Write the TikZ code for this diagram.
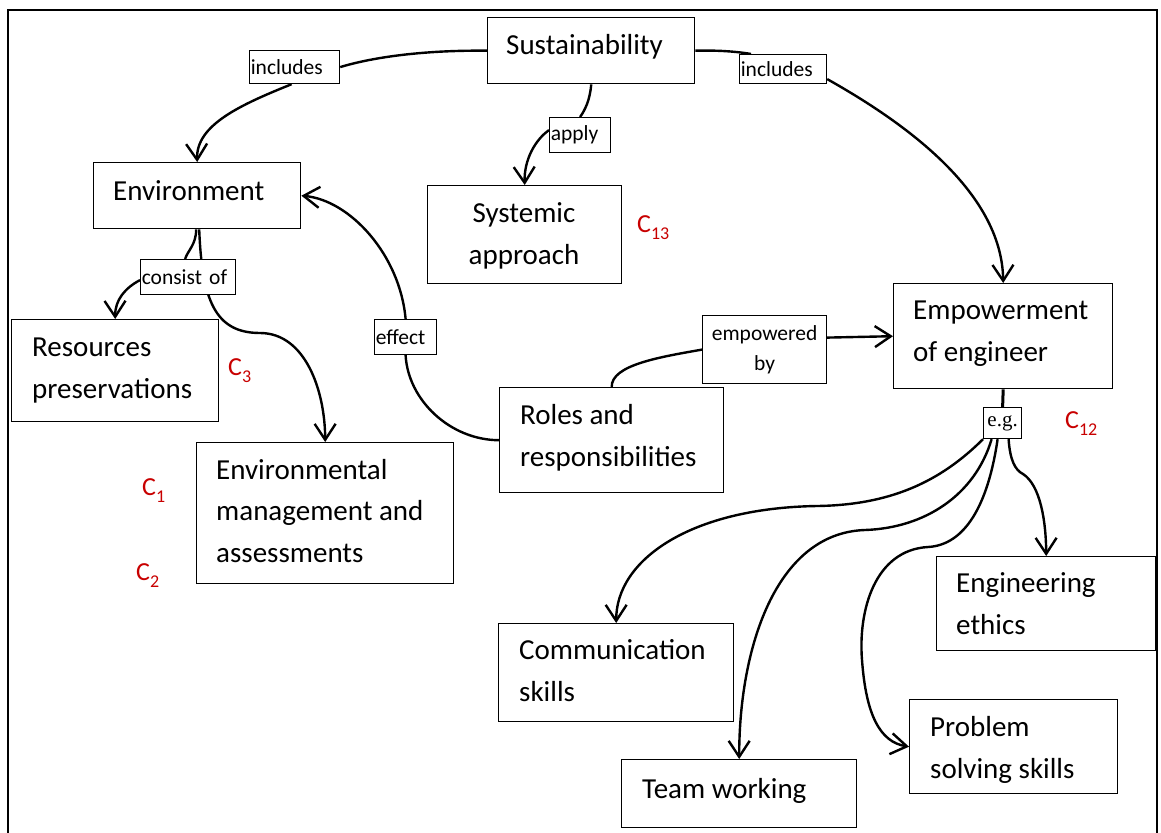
\documentclass[tikz,border=0pt]{standalone}
\usepackage{fontspec}
\setmainfont{Carlito}
\newfontfamily\egfont{Liberation Serif}
\usetikzlibrary{arrows.meta}
\definecolor{cred}{RGB}{200,0,0}
\pgfdeclarelayer{bg}
\pgfsetlayers{bg,main}
\newcommand\mysub[1]{\raisebox{-7pt}{\fontsize{18}{18}\selectfont #1}}
\begin{document}
\begin{tikzpicture}[x=1pt,y=-1pt,
  box/.style={draw, line width=1.4pt, rectangle, inner sep=0pt, anchor=north west},
  lbl/.style={draw, line width=1.2pt, fill=white, inner xsep=1.2pt, inner ysep=0pt, anchor=north west, align=left, font=\fontsize{21.5}{30}\selectfont},
  txt/.style={inner sep=0pt, anchor=base west, align=left, font=\fontsize{29}{41.5}\selectfont},
  con/.style={line width=2.4pt},
  arr/.style={con, -{Straight Barb[length=16pt,width=21pt]}},
  cl/.style={text=cred, inner sep=0pt, anchor=base west, font=\fontsize{26}{30}\selectfont}
]
\useasboundingbox (0,0) rectangle (1161,832);
\draw[line width=2pt] (8,834) -- (8,10) -- (1157,10) -- (1157,834);

% boxes
\node[box, minimum width=207, minimum height=66] (sus) at (487,17) {};
\node[box, minimum width=207, minimum height=66] (env) at (93,162) {};
\node[box, minimum width=194, minimum height=98] (sys) at (427,185) {};
\node[box, minimum width=207, minimum height=102] (res) at (11,319) {};
\node[box, minimum width=257, minimum height=141] (envm) at (196,442) {};
\node[box, minimum width=224, minimum height=105] (roles) at (499,387) {};
\node[box, minimum width=219, minimum height=105] (empow) at (893,283) {};
\node[box, minimum width=219, minimum height=94] (eth) at (936,556) {};
\node[box, minimum width=235, minimum height=98] (comm) at (498,623) {};
\node[box, minimum width=235, minimum height=68] (team) at (621,759) {};
\node[box, minimum width=208, minimum height=94] (prob) at (909,699) {};

% box texts (base anchor = baseline of the last line)
\node[txt] (susT) at (506,55) {Sustainability};
\node[txt] (envT) at (113,200) {Environment};
\node[txt, anchor=base, align=center] (sysT) at (524,264) {Systemic\\approach};
\node[txt] (resT) at (32,398) {Resources\\preservations};
\node[txt] (envmT) at (216,562) {Environmental\\management and\\assessments};
\node[txt] (rolesT) at (520,466) {Roles and\\responsibilities};
\node[txt] (empowT) at (913,361) {Empowerment\\of engineer};
\node[txt] (ethT) at (956,634) {Engineering\\ethics};
\node[txt] (commT) at (519,701) {Communication\\skills};
\node[txt] (teamT) at (642,798) {Team working};
\node[txt] (probT) at (930,778) {Problem\\solving skills};

% connector labels
\node[lbl, text width=87.6, minimum height=33] (incL) at (249,50) {includes};
\node[lbl, text width=84.6, minimum height=29] (incR) at (739,54) {includes};
\node[lbl, text width=58.6, minimum height=35] (apply) at (549,117) {apply};
\node[lbl, text width=92.6, minimum height=35] (consist) at (140,259) {consist of};
\node[lbl, text width=59.6, minimum height=35] (effect) at (374,319) {effect};
\node[lbl, text width=121.6, minimum height=68, align=center] (empBy) at (702,315) {empowered\\by};
\node[lbl, text width=35.6, minimum height=31, align=center, font=\egfont\fontsize{21}{24}\selectfont] (eg) at (983,407) {e.g.};

% C labels
\node[cl] (c13) at (637,232) {C\mysub{13}};
\node[cl] (c3) at (228,375) {C\mysub{3}};
\node[cl] (c1) at (142,495) {C\mysub{1}};
\node[cl] (c2) at (136,580) {C\mysub{2}};
\node[cl] (c12) at (1065,428) {C\mysub{12}};

\begin{pgfonlayer}{bg}
% Sustainability -> Environment
\draw[con] (sus.west) .. controls (420,50) and (370,58) .. (incL.east);
\draw[arr] ([xshift=-3pt]incL.south) .. controls (240,105) and (196,125) .. (env.north);
% Sustainability -> Systemic approach
\draw[con] (sus.south) .. controls (590,100) and (585,110) .. (apply.north);
\draw[arr] ([yshift=5pt]apply.west) .. controls (535,140) and (524,160) .. (sys.north);
% Sustainability -> Empowerment
\draw[con] (sus.east) .. controls (720,50) and (740,52) .. ([xshift=12pt]incR.north west);
\draw[arr] ([yshift=-10pt]incR.east) .. controls (900,120) and (1002,190) .. (empow.north);
% Environment -> Resources
\draw[con] ([xshift=-1pt]env.south) .. controls (196,245) and (188,250) .. ([xshift=-3pt]consist.north);
\draw[arr] ([yshift=-3pt]consist.west) .. controls (125,288) and (115,300) .. (res.north);
% Environment -> Environmental management
\draw[arr] ([xshift=2pt]env.south) .. controls (202,300) and (215,333) .. (260,333)
  .. controls (305,333) and (325,390) .. (envm.north);
% Roles -> Environment (effect)
\draw[arr] (roles.west) .. controls (450,440) and (408,400) .. (effect.south) -- (effect.north)
  .. controls (400,255) and (350,200) .. (env.east);
% Roles -> Empowerment
\draw[con] (roles.north) .. controls (611,365) and (660,357) .. (empBy.west);
\draw[arr] ([yshift=12pt]empBy.east) -- (empow.west);
% Empowerment -> e.g.
\draw[line width=3pt] (empow.south) -- (eg.north);
% e.g. -> skills
\draw[arr] ([xshift=6pt]eg.south) .. controls (1010,460) and (1015,470) .. (1023,474)
  .. controls (1040,485) and (1046,520) .. (eth.north);
\draw[arr] (eg.south west) .. controls (940,482) and (890,505) .. (817,506)
  .. controls (690,508) and (616,560) .. (comm.north);
\draw[arr] ([xshift=-11pt]eg.south) .. controls (975,495) and (925,528) .. (865,530)
  .. controls (775,533) and (739,650) .. (team.north);
\draw[arr] ([xshift=-5pt]eg.south) .. controls (988,505) and (965,545) .. (928,547)
  .. controls (875,550) and (858,610) .. (862,660)
  .. controls (866,715) and (880,742) .. (prob.west);
\end{pgfonlayer}
\end{tikzpicture}
\end{document}
